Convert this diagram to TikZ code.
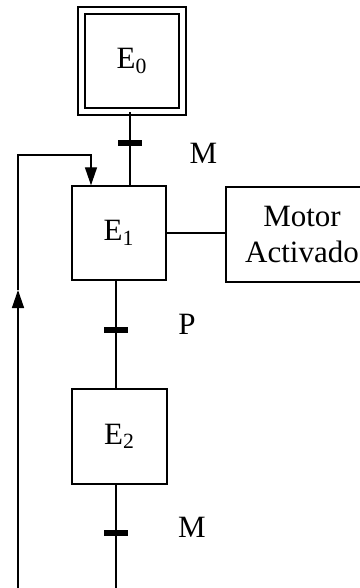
\documentclass[tikz,border=0pt]{standalone}
\usepackage{fontspec}
\setmainfont{Liberation Serif}
\usetikzlibrary{arrows.meta}
\begin{document}
\begin{tikzpicture}[x=0.5pt, y=-0.5pt, line width=0.7pt,
        etapa/.style={draw, minimum width=47pt, minimum height=47pt, inner sep=0pt, font=\fontsize{15.5}{18}\selectfont},
        barra/.style={fill, minimum width=12pt, minimum height=2.8pt, inner sep=0pt},
        etiqueta/.style={font=\fontsize{15.5}{18}\selectfont},
        flecha/.style={-{Triangle[length=9pt, width=6pt]}}]
        \useasboundingbox (0,0) rectangle (359,588);
        \node[etapa, double, double distance=2.8pt, minimum width=50.5pt, minimum height=50.5pt] (E0) at (132,61) {E\textsubscript{0}};
        \node[etapa] (E1) at (119,233) {E\textsubscript{1}};
        \node[etapa, minimum width=47.5pt, minimum height=47.5pt] (E2) at (119.5,436.5) {E\textsubscript{2}};
        \node[etapa, minimum width=76pt, minimum height=47.5pt, align=center] (motor) at (302,234.5) {Motor\\Activado};
        \node[barra] (t1) at (130,143) {};
        \node[barra] (t2) at (116,330) {};
        \node[barra] (t3) at (116,533) {};
        \node[etiqueta] (m1) at (203.5,153) {M};
        \node[etiqueta] (p) at (187,324) {P};
        \node[etiqueta] (m2) at (192,527) {M};
        \coordinate (fin) at (116,588);
        \coordinate (inicio) at (18,588);
        \coordinate (medio) at (18,290);
        \coordinate (esquina) at (18,155);
        \draw (E0.south -| t1) -- (E1.north -| t1);
        \draw (E1.south -| t2) -- (E2.north -| t2);
        \draw (E2.south -| t3) -- (fin);
        \draw (E1.east) -- (E1.east -| motor.west);
        \draw[flecha] (inicio) -- (medio);
        \draw[flecha] (medio) -- (esquina) -| ([xshift=-14pt]E1.north);
\end{tikzpicture}
\end{document}
